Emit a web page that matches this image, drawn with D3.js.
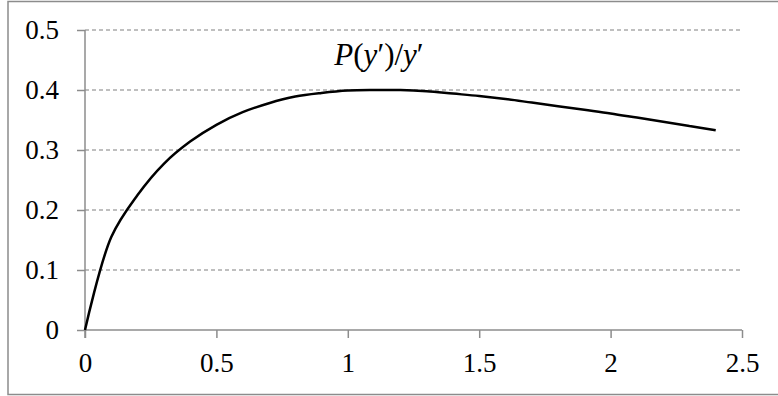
<!DOCTYPE html>
<html>
<head>
<meta charset="utf-8">
<script src="https://cdn.jsdelivr.net/npm/d3@7/dist/d3.min.js"></script>
<style>
  html, body { margin: 0; padding: 0; background: #fff; }
  svg { display: block; }
  svg text { font-family: "Liberation Serif", "Times New Roman", serif; fill: #000; }
</style>
</head>
<body>
<script>
// Sampled ratio P(y')/y' against y'
const xValues = [0, 0.1, 0.2, 0.3, 0.4, 0.5, 0.6, 0.7, 0.8, 0.9, 1.0, 1.1, 1.2,
                 1.3, 1.4, 1.5, 1.6, 1.7, 1.8, 1.9, 2.0, 2.1, 2.2, 2.3, 2.4];
const yValues = [0, 0.155, 0.225, 0.277, 0.314, 0.342, 0.363, 0.378, 0.389, 0.395, 0.399, 0.400, 0.400,
                 0.398, 0.394, 0.390, 0.385, 0.379, 0.373, 0.367, 0.361, 0.354, 0.347, 0.340, 0.333];
const xTicks = [0, 0.5, 1, 1.5, 2, 2.5];
const yTicks = [0, 0.1, 0.2, 0.3, 0.4, 0.5];

const W = 778, H = 396;
const plot = { left: 85, right: 742, top: 30, bottom: 330 };
const serif = "Liberation Serif, Times New Roman, serif";

const svg = d3.select("body").append("svg").attr("width", W).attr("height", H);

// chart frame
svg.append("rect")
  .attr("x", 8).attr("y", 1.5)
  .attr("width", W + 10).attr("height", 393)
  .attr("fill", "#fff").attr("stroke", "#8c8c8c").attr("stroke-width", 1.5);

const x = d3.scaleLinear().domain([0, 2.5]).range([plot.left, plot.right]);
const y = d3.scaleLinear().domain([0, 0.5]).range([plot.bottom, plot.top]);

// horizontal dashed gridlines
svg.append("g")
  .selectAll("line")
  .data(yTicks.filter(d => d > 0))
  .join("line")
  .attr("x1", plot.left).attr("x2", plot.right)
  .attr("y1", d => y(d)).attr("y2", d => y(d))
  .attr("stroke", "#ababab").attr("stroke-width", 1.3)
  .attr("stroke-dasharray", "4,3");

// y axis
const yAxis = svg.append("g")
  .attr("transform", `translate(${plot.left},0)`)
  .call(d3.axisLeft(y).tickValues(yTicks).tickFormat(d3.format("")).tickSize(8).tickPadding(18));
yAxis.select(".domain").remove();
yAxis.append("line")
  .attr("x1", 0).attr("x2", 0)
  .attr("y1", y(0.5)).attr("y2", plot.bottom + 8)
  .attr("stroke", "#8c8c8c").attr("stroke-width", 1.5);

// x axis
const xAxis = svg.append("g")
  .attr("transform", `translate(0,${plot.bottom})`)
  .call(d3.axisBottom(x).tickValues(xTicks).tickFormat(d3.format("")).tickSize(8).tickPadding(15));
xAxis.select(".domain").remove();
xAxis.append("line")
  .attr("x1", plot.left).attr("x2", plot.right)
  .attr("y1", 0).attr("y2", 0)
  .attr("stroke", "#8c8c8c").attr("stroke-width", 1.5);

[yAxis, xAxis].forEach(g => {
  g.attr("font-family", serif).attr("font-size", 27);
  g.selectAll(".tick line").attr("stroke", "#8c8c8c").attr("stroke-width", 1.5);
  g.selectAll(".tick text").attr("font-family", serif).attr("font-size", 27).attr("fill", "#000");
});

// curve
const pts = xValues.map((v, i) => [v, yValues[i]]);
svg.append("path")
  .datum(pts)
  .attr("fill", "none")
  .attr("stroke", "#000")
  .attr("stroke-width", 2.5)
  .attr("stroke-linejoin", "round")
  .attr("d", d3.line().x(d => x(d[0])).y(d => y(d[1])).curve(d3.curveCatmullRom.alpha(0.5)));

// series label
const lbl = svg.append("text")
  .attr("x", 379).attr("y", 65)
  .attr("text-anchor", "middle")
  .attr("font-family", serif)
  .attr("font-size", 31);
lbl.append("tspan").attr("font-style", "italic").text("P");
lbl.append("tspan").text("(");
lbl.append("tspan").attr("font-style", "italic").text("y");
lbl.append("tspan").text("′)/");
lbl.append("tspan").attr("font-style", "italic").text("y");
lbl.append("tspan").text("′");
</script>
</body>
</html>
